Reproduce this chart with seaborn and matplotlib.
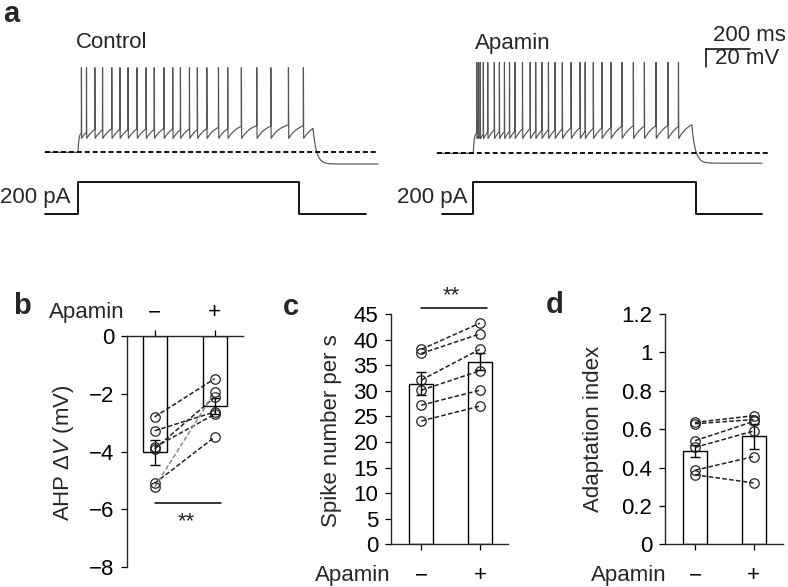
import numpy as np
import pandas as pd
import matplotlib
matplotlib.use("Agg")
import matplotlib.pyplot as plt
import seaborn as sns

# ---------------- data ----------------
cond_pos = [0, 1]
cond_labels = ["\u2212", "+"]          # Apamin - / +

# panel a : spike times (ms after current onset)
ctrl_spike_ms = [15, 38, 76, 111, 153, 190, 227, 268, 309, 346, 390, 430, 465,
                 506, 542, 585, 638, 680, 742, 812, 876, 956, 1024]
apa_spike_ms = [15, 23, 31, 45, 65, 95, 118, 141, 164, 189, 223, 258, 283, 311,
                341, 371, 404, 444, 485, 508, 545, 584, 625, 675, 727, 777,
                830, 884, 932]
ctrl_vm_off_ms = 1068      # end of depolarisation in the control trace
apa_vm_off_ms = 993
ctrl_step_ms = [0, 1006]   # current step on / off
apa_step_ms = [0, 1012]
ctrl_span_ms = [-150, 1364]
apa_span_ms = [-165, 1312]
ctrl_cur_span_ms = [-150, 1309]
apa_cur_span_ms = [-144, 1312]
ctrl_dash_ms = [-150, 1364]
apa_dash_ms = [-165, 1348]
step_pA = 200
rest_mV = -70
ctrl_levels = dict(trough=15.5, amp=18, tau=45, peak=94, post=-13)
apa_levels = dict(trough=16.5, amp=22, tau=50, peak=101, post=-11)

# panel b : AHP dV (mV)
ahp_ctrl = [-2.80, -3.28, -3.85, -3.91, -5.10, -5.23]
ahp_apa = [-1.48, -2.63, -2.71, -2.12, -3.50, -1.94]
ahp_line_col = ["#222222", "#222222", "#222222", "#222222", "#222222", "#888888"]
ahp_mean = [-4.03, -2.43]
ahp_sem = [0.44, 0.27]

# panel c : spike number per s
spk_ctrl = [24.1, 27.2, 30.1, 32.1, 37.3, 38.1]
spk_apa = [27.0, 30.1, 33.9, 38.1, 41.1, 43.2]
spk_mean = [31.4, 35.7]
spk_sem = [2.3, 1.6]

# panel d : adaptation index
adp_ctrl = [0.635, 0.628, 0.54, 0.505, 0.386, 0.362]
adp_apa = [0.67, 0.65, 0.64, 0.59, 0.457, 0.32]
adp_mean = [0.487, 0.564]
adp_sem = [0.03, 0.065]

# ---------------- style ----------------
sns.set_theme(style="ticks")
plt.rcParams["font.family"] = ["Liberation Sans", "DejaVu Sans"]
plt.rcParams["mathtext.fontset"] = "custom"
plt.rcParams["mathtext.rm"] = "Liberation Sans"
plt.rcParams["mathtext.it"] = "Liberation Sans:italic"
FS = 16

W, H = 788, 587
fig = plt.figure(figsize=(W / 100, H / 100), dpi=100)


def add_ax(x0, y0, x1, y1):
    return fig.add_axes([x0 / W, 1 - y1 / H, (x1 - x0) / W, (y1 - y0) / H])


def ftext(x, y, s, **kw):
    fig.text(x / W, 1 - y / H, s, **kw)


PX_PER_MS = 0.22
PX_PER_MV = 0.9
PX_PER_PA = 32 / 200


def vm_trace(spikes, span, t_off, levels):
    tr, amp, tau = levels["trough"], levels["amp"], levels["tau"]
    ts = [span[0], 0.0]
    vs = [rest_mV, rest_mV]
    seg = np.linspace(0, spikes[0], 15)[1:]
    v = rest_mV + (tr + 6) * (1 - np.exp(-seg / 4.0))
    ts += list(seg); vs += list(v)
    for i, s in enumerate(spikes):
        ts += [s + 0.6, s + 1.8]
        vs += [rest_mV + levels["peak"], rest_mV + tr]
        t_next = spikes[i + 1] if i + 1 < len(spikes) else t_off
        seg = np.linspace(s + 1.8, t_next, 30)[1:]
        v = rest_mV + tr + amp * (1 - np.exp(-(seg - s - 1.8) / tau))
        ts += list(seg); vs += list(v)
    v_off = vs[-1]
    seg = np.linspace(t_off, span[1], 150)
    post = rest_mV + levels["post"]
    v = post + (v_off - post) * np.exp(-(seg - t_off) / 16.0)
    ts += list(seg); vs += list(v)
    return pd.DataFrame({"t": ts, "v": vs})


def cur_trace(step, span):
    return pd.DataFrame({"t": [span[0], step[0], step[0], step[1], step[1], span[1]],
                         "i": [0, 0, step_pA, step_pA, 0, 0]})


def draw_traces(x_on, y_rest, px_left, px_right, spikes, span, t_off, levels,
                step, cur_span, dash):
    axv = add_ax(px_left, 20, px_right, 180)
    axv.set_xlim((px_left - x_on) / PX_PER_MS, (px_right - x_on) / PX_PER_MS)
    axv.set_ylim(rest_mV + (y_rest - 180) / PX_PER_MV, rest_mV + (y_rest - 20) / PX_PER_MV)
    axv.axis("off")
    df = vm_trace(spikes, span, t_off, levels)
    sns.lineplot(data=df, x="t", y="v", sort=False, estimator=None, color="#555555",
                 lw=0.85, ax=axv)
    axv.plot(dash, [rest_mV, rest_mV], color="black", lw=1.3,
             linestyle=(0, (2.8, 1.6)))
    axi = add_ax(px_left, 170, px_right, 225)
    axi.set_xlim(axv.get_xlim())
    axi.set_ylim(-(225 - 214) / PX_PER_PA, (214 - 170) / PX_PER_PA)
    axi.axis("off")
    dfi = cur_trace(step, cur_span)
    sns.lineplot(data=dfi, x="t", y="i", sort=False, estimator=None, color="black",
                 lw=1.3, ax=axi)
    return axv


draw_traces(78, 152.3, 40, 390, ctrl_spike_ms, ctrl_span_ms, ctrl_vm_off_ms,
            ctrl_levels, ctrl_step_ms, ctrl_cur_span_ms, ctrl_dash_ms)
axa = draw_traces(473.3, 153.3, 430, 788, apa_spike_ms, apa_span_ms, apa_vm_off_ms,
                  apa_levels, apa_step_ms, apa_cur_span_ms, apa_dash_ms)

# scale bar (200 ms, 20 mV)
sb_t0 = (706 - 473.3) / PX_PER_MS
sb_v0 = rest_mV + (153.3 - 49) / PX_PER_MV
axa.plot([sb_t0, sb_t0 + 200], [sb_v0, sb_v0], color="black", lw=1.1)
axa.plot([sb_t0, sb_t0], [sb_v0, sb_v0 - 20], color="black", lw=1.1)
ftext(713, 41, "200 ms", fontsize=FS, va="baseline", ha="left")
ftext(715, 64, "20 mV", fontsize=FS, va="baseline", ha="left")

ftext(76, 48.5, "Control", fontsize=FS, va="baseline")
ftext(475, 48.5, "Apamin", fontsize=FS, va="baseline")
ftext(0, 203, "200 pA", fontsize=FS, va="baseline")
ftext(397, 203, "200 pA", fontsize=FS, va="baseline")

# panel letters
for s, x, y in [("a", 3, 22), ("b", 13, 314), ("c", 283, 315), ("d", 546, 313)]:
    ftext(x, y, s, fontsize=21, fontweight="bold", va="baseline")


# ---------------- bar panels ----------------
def pair_df(a, b):
    rows = []
    for k, (u, w) in enumerate(zip(a, b)):
        rows.append({"cell": k, "x": cond_pos[0], "v": u})
        rows.append({"cell": k, "x": cond_pos[1], "v": w})
    return pd.DataFrame(rows)


def bar_panel(rect, xlim, ylim, means, sems, a, b, line_cols=None, width=0.41):
    ax = add_ax(*rect)
    dfm = pd.DataFrame({"x": cond_pos, "m": means})
    sns.barplot(data=dfm, x="x", y="m", native_scale=True, orient="x", width=width,
                color="white", saturation=1, edgecolor="black", linewidth=1.0,
                errorbar=None, ax=ax)
    ax.errorbar(cond_pos, means, yerr=sems, fmt="none", ecolor="black",
                elinewidth=1.0, capsize=3.5, capthick=1.0, zorder=3)
    dfp = pair_df(a, b)
    if line_cols is None:
        line_cols = ["#222222"] * len(a)
    pal = {k: c for k, c in enumerate(line_cols)}
    sns.lineplot(data=dfp, x="x", y="v", units="cell", estimator=None, hue="cell",
                 palette=pal, legend=False, lw=1.1, linestyle=(0, (3.0, 1.5)),
                 marker="o", ms=6.8, markerfacecolor="none", markeredgecolor="#222222",
                 markeredgewidth=0.9, ax=ax, zorder=4)
    ax.set_xlim(*xlim)
    ax.set_ylim(*ylim)
    ax.set_xticks(cond_pos)
    ax.set_xticklabels(cond_labels)
    ax.set_xlabel("")
    ax.set_ylabel("")
    for sp in ax.spines.values():
        sp.set_linewidth(1.0)
    ax.tick_params(axis="both", length=4, width=0.9, labelsize=FS, colors="black")
    return ax


# panel b
axb = bar_panel((127, 336, 243, 567), (-0.462, 1.472), (-8, 0), ahp_mean, ahp_sem,
                ahp_ctrl, ahp_apa, ahp_line_col, width=0.40)
axb.spines["bottom"].set_visible(False)
axb.spines["right"].set_visible(False)
axb.xaxis.set_ticks_position("top")
axb.tick_params(axis="x", pad=5)
axb.set_yticks([0, -2, -4, -6, -8])
axb.set_yticklabels(["0", "\u22122", "\u22124", "\u22126", "\u22128"])
axb.tick_params(axis="y", pad=5)
axb.plot([0, 1.1], [-5.77, -5.77], color="black", lw=1.1, clip_on=False)
axb.text(0.52, -6.05, "**", ha="center", va="top", fontsize=FS)
ftext(63, 452.5, "AHP \u0394$V$ (mV)", fontsize=FS, rotation=90, ha="center", va="center")
ftext(125, 318, "Apamin", fontsize=FS, ha="right", va="baseline")

# panel c
axc = bar_panel((390.7, 314, 508.3, 544.3), (-0.522, 1.485), (0, 45), spk_mean, spk_sem,
                spk_ctrl, spk_apa)
axc.spines["top"].set_visible(False)
axc.spines["right"].set_visible(False)
axc.set_yticks(range(0, 50, 5))
axc.tick_params(axis="x", pad=11)
axc.tick_params(axis="y", pad=5)
axc.plot([0.0, 1.12], [46.2, 46.2], color="black", lw=1.1, clip_on=False)
axc.text(0.52, 46.6, "**", ha="center", va="bottom", fontsize=FS)
ftext(331.7, 430.8, "Spike number per s", fontsize=FS, rotation=90, ha="center", va="center")
ftext(391, 581.5, "Apamin", fontsize=FS, ha="right", va="baseline")

# panel d
axd = bar_panel((665, 314, 783.3, 544.3), (-0.513, 1.509), (0, 1.2), adp_mean, adp_sem,
                adp_ctrl, adp_apa)
axd.spines["top"].set_visible(False)
axd.spines["right"].set_visible(False)
axd.set_yticks([0, 0.2, 0.4, 0.6, 0.8, 1.0, 1.2])
axd.set_yticklabels(["0", "0.2", "0.4", "0.6", "0.8", "1", "1.2"])
axd.tick_params(axis="x", pad=11)
axd.tick_params(axis="y", pad=5)
ftext(593.3, 429.2, "Adaptation index", fontsize=FS, rotation=90, ha="center", va="center")
ftext(667, 581.5, "Apamin", fontsize=FS, ha="right", va="baseline")

fig.savefig("out.png", dpi=100)
